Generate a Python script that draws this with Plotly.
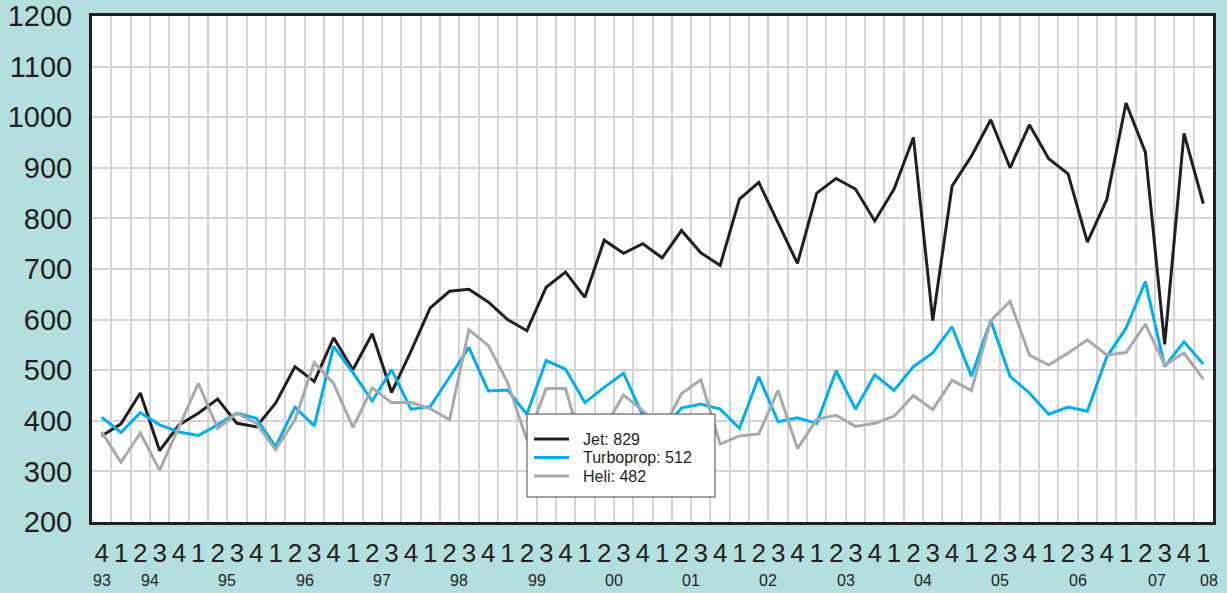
import plotly.graph_objects as go

# Quarter index 0 = 1993 Q4 ... 57 = 2008 Q1
quarters = ["4"] + ["1", "2", "3", "4"] * 14 + ["1"]
years = ["93", "94", "95", "96", "97", "98", "99", "00", "01", "02", "03", "04", "05", "06", "07", "08"]
year_pos = [0] + [2.5 + 4 * k for k in range(13)] + [54.6, 57.3]

jet = [370, 394, 455, 341, 392, 415, 443, 395, 388, 435,
       507, 478, 564, 501, 572, 456, 537, 623, 656, 660,
       635, 600, 578, 664, 694, 644, 757, 731, 750, 722,
       776, 732, 707, 838, 871, 790, 711, 850, 879, 858,
       795, 858, 960, 598, 864, 923, 995, 900, 985, 918,
       888, 753, 837, 1028, 931, 551, 968, 829]

turboprop = [407, 377, 416, 392, 378, 371, 392, 415, 405, 349,
             427, 390, 547, 495, 439, 501, 423, 428, 486, 545,
             459, 461, 413, 519, 502, 436, 466, 494, 410, 380,
             425, 433, 423, 385, 487, 398, 406, 395, 499, 423,
             491, 460, 507, 534, 586, 488, 598, 488, 455, 413,
             427, 419, 526, 583, 675, 507, 556, 512]

heli = [378, 318, 376, 302, 388, 474, 385, 415, 395, 343,
        402, 515, 474, 387, 465, 436, 436, 424, 402, 580,
        549, 476, 362, 464, 464, 330, 385, 451, 420, 380,
        454, 481, 354, 370, 374, 460, 345, 403, 411, 389,
        395, 409, 450, 422, 480, 460, 598, 636, 530, 510,
        534, 560, 530, 535, 591, 510, 534, 482]

series = [("Jet", jet, "#231f20"), ("Turboprop", turboprop, "#00aeef"), ("Heli", heli, "#a7a9ac")]

W, H = 1227, 593
ML, MR, MT, MB = 92, 14, 16, 71
PW, PH = W - ML - MR, H - MT - MB


def px(xp):
    return (xp - ML) / PW


def py(yp):
    return (H - MB - yp) / PH


x = list(range(len(quarters)))
fig = go.Figure()
for name, vals, col in series:
    fig.add_trace(go.Scatter(
        x=x, y=vals, mode="lines", name=f"{name}: {vals[-1]}",
        line=dict(color=col, width=3), hoverinfo="skip", showlegend=False))

for yr, pos in zip(years, year_pos):
    fig.add_annotation(x=pos, y=0, xref="x", yref="paper", yshift=-58,
                       yanchor="middle",
                       text=yr, showarrow=False,
                       font=dict(size=16, color="#231f20", family="Liberation Sans, Arial"))

# Legend box drawn on top of the lines
fig.add_shape(type="rect", xref="paper", yref="paper",
              x0=px(527), x1=px(715), y0=py(497), y1=py(414),
              fillcolor="#ffffff", line=dict(color="#444444", width=1), layer="above")
legend_rows = [439, 457.5, 476]
for (name, vals, col), ry in zip(series, legend_rows):
    fig.add_shape(type="line", xref="paper", yref="paper",
                  x0=px(534), x1=px(569), y0=py(ry), y1=py(ry),
                  line=dict(color=col, width=3), layer="above")
    fig.add_annotation(x=px(581), y=py(ry), xref="paper", yref="paper",
                       xanchor="left", yanchor="middle", showarrow=False,
                       text=f"{name}: {vals[-1]}",
                       font=dict(size=16, color="#231f20", family="Liberation Sans, Arial"))

fig.update_layout(
    width=W, height=H,
    margin=dict(l=ML, r=MR, t=MT, b=MB, autoexpand=False),
    paper_bgcolor="#b4dfdf", plot_bgcolor="#ffffff",
    font=dict(family="Liberation Sans, Arial", color="#231f20"),
    showlegend=False,
    xaxis=dict(range=[-0.5, 57.5], tickmode="array", tickvals=x, ticktext=quarters,
               showgrid=False, zeroline=False, ticks="", automargin=False,
               tickfont=dict(size=26, color="#231f20"), ticklabelstandoff=6,
               showline=True, mirror=True, linecolor="#231f20", linewidth=3,
               minor=dict(tick0=0.5, dtick=1, showgrid=True, gridcolor="#d4d4d4", gridwidth=1.5, ticks="")),
    yaxis=dict(range=[200, 1200], tickmode="array", tickvals=list(range(200, 1201, 100)),
               showgrid=True, gridcolor="#d4d4d4", gridwidth=1.5, zeroline=False, ticks="", automargin=False,
               tickfont=dict(size=29, color="#231f20"), ticklabelstandoff=11,
               showline=True, mirror=True, linecolor="#231f20", linewidth=3),
)

fig.write_html("out.html", config={"displayModeBar": False},
               post_script="document.body.style.margin='0';")
